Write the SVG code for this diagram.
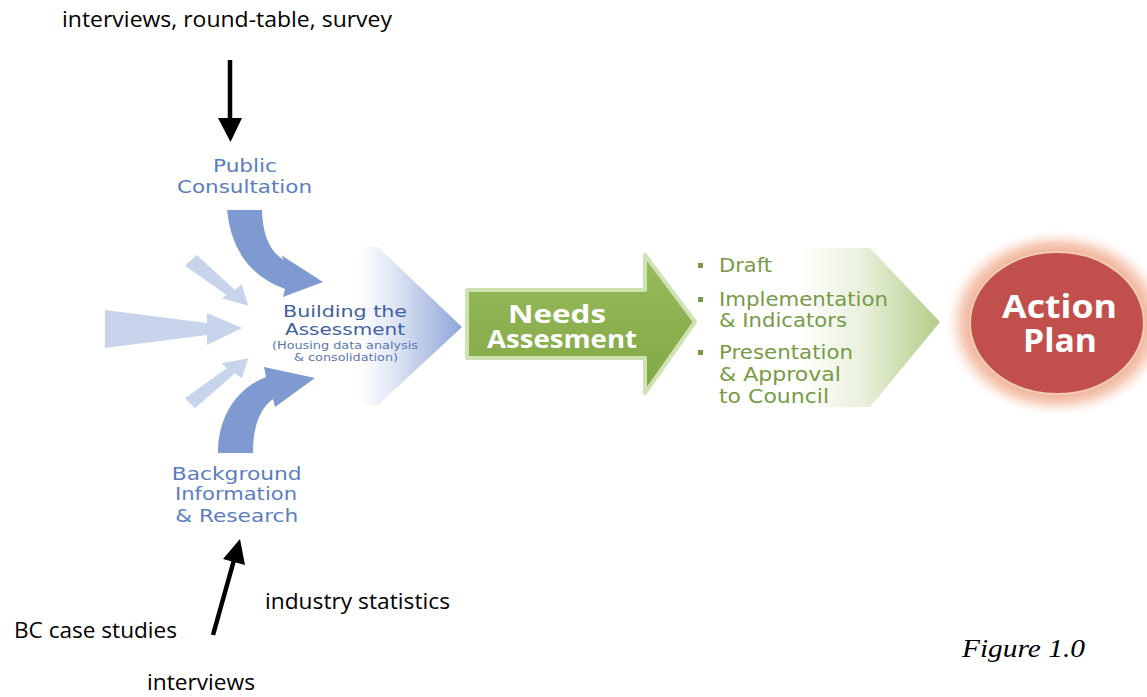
<svg xmlns="http://www.w3.org/2000/svg" width="1147" height="697" viewBox="0 0 1147 697">
<defs>
<style>
.blk{font-family:"Open Sans","Liberation Sans",sans-serif;font-size:22px;fill:#000}
.cg{font-family:"DejaVu Sans","Liberation Sans",sans-serif;text-anchor:middle}
.blue{fill:#5b7dc0;font-size:18px}
.bld{fill:#3f5f9f;font-size:16px}
.sub{fill:#5a76b2;font-size:11px}
.grn{font-family:"DejaVu Sans","Liberation Sans",sans-serif;fill:#779a48;font-size:20px}
.wb{font-family:"Open Sans","Liberation Sans",sans-serif;font-weight:bold;fill:#fff;text-anchor:middle}
.light{fill:#c8d4eb}
.dark{fill:#7f9ad1}
</style>
<linearGradient id="gBlue" gradientUnits="userSpaceOnUse" x1="360" y1="0" x2="462" y2="0">
<stop offset="0" stop-color="#8ea5d8" stop-opacity="0"/>
<stop offset="0.3" stop-color="#8ea5d8" stop-opacity="0.25"/>
<stop offset="1" stop-color="#8ea5d8" stop-opacity="1"/>
</linearGradient>
<linearGradient id="gGreenFade" gradientUnits="userSpaceOnUse" x1="800" y1="0" x2="942" y2="0">
<stop offset="0" stop-color="#b2cb85" stop-opacity="0"/>
<stop offset="0.45" stop-color="#b2cb85" stop-opacity="0.3"/>
<stop offset="1" stop-color="#b2cb85" stop-opacity="1"/>
</linearGradient>
<linearGradient id="gGreen" x1="0" y1="0" x2="0" y2="1">
<stop offset="0" stop-color="#97bb5c"/>
<stop offset="1" stop-color="#82a746"/>
</linearGradient>
<radialGradient id="gGlow" cx="0.5" cy="0.5" r="0.5">
<stop offset="0.74" stop-color="#eeaa90"/>
<stop offset="0.86" stop-color="#f7cfbc"/>
<stop offset="1" stop-color="#fdf0ea" stop-opacity="0"/>
</radialGradient>
</defs>
<rect width="1147" height="697" fill="#fff"/>

<g id="connectors">
<line x1="230" y1="60" x2="230" y2="122" stroke="#000" stroke-width="4.5"/>
<polygon points="218,118 242,118 230.5,142" fill="#000"/>
<line x1="213" y1="635" x2="234" y2="560" stroke="#000" stroke-width="4.5"/>
<polygon points="223,559 245,565 240,539" fill="#000"/>
<polygon class="light" points="196.7,255 235,290 241.7,284.3 248.3,305.7 221.7,298.3 226.7,295 185,265.7"/>
<polygon class="light" points="105,310 207,323 207,313 242,328 207,345 207,335 105,348"/>
<polygon class="light" points="185,398.3 226.7,368.3 221.7,363.3 248.3,358.3 241.7,378.3 235,373.3 195,408.3"/>
<path class="dark" d="M227 210 L262 210 Q263 248 284 260 L281 255 L323 282 L283 297 L285 289 Q233 270 227 210 Z"/>
<path class="dark" d="M218 453 C218 415 238 388 266 377 L264 367 L315 378 L275 407 L273 399 C258 410 253 430 253 453 Z"/>
</g>

<g id="input-text">
<text class="blk" x="62" y="27" textLength="330" lengthAdjust="spacingAndGlyphs">interviews, round-table, survey</text>
<text class="blk" x="265" y="609" textLength="185" lengthAdjust="spacingAndGlyphs">industry statistics</text>
<text class="blk" x="14" y="638" textLength="163" lengthAdjust="spacingAndGlyphs">BC case studies</text>
<text class="blk" x="147" y="690" textLength="108" lengthAdjust="spacingAndGlyphs">interviews</text>
</g>

<g id="public-consultation">
<text class="cg blue" x="245" y="172" textLength="64" lengthAdjust="spacingAndGlyphs">Public</text>
<text class="cg blue" x="244.5" y="193" textLength="135" lengthAdjust="spacingAndGlyphs">Consultation</text>
</g>

<g id="background-information">
<text class="cg blue" x="236.7" y="480" textLength="130" lengthAdjust="spacingAndGlyphs">Background</text>
<text class="cg blue" x="236" y="500" textLength="122" lengthAdjust="spacingAndGlyphs">Information</text>
<text class="cg blue" x="236.7" y="521.5" textLength="123" lengthAdjust="spacingAndGlyphs">&amp; Research</text>
</g>

<g id="building-assessment">
<polygon points="300,247 378,247 462,327 378,405 300,405" fill="url(#gBlue)"/>
<text class="cg bld" x="345" y="317" textLength="124" lengthAdjust="spacingAndGlyphs">Building the</text>
<text class="cg bld" x="345" y="335" textLength="120" lengthAdjust="spacingAndGlyphs">Assessment</text>
<text class="cg sub" x="345" y="349" textLength="146" lengthAdjust="spacingAndGlyphs">(Housing data analysis</text>
<text class="cg sub" x="346" y="361" textLength="104" lengthAdjust="spacingAndGlyphs">&amp; consolidation)</text>
</g>

<g id="needs-assessment">
<polygon points="467,290 645,290 645,255 695,322 645,393 645,358 467,358" fill="url(#gGreen)" stroke="#cfe2b2" stroke-width="4" stroke-linejoin="round"/>
<text class="wb" x="557" y="323" font-size="25" textLength="98" lengthAdjust="spacingAndGlyphs">Needs</text>
<text class="wb" x="562" y="348" font-size="25" textLength="150" lengthAdjust="spacingAndGlyphs">Assesment</text>
</g>

<g id="steps">
<polygon points="700,248 870,248 940,322 870,407 700,407" fill="url(#gGreenFade)"/>
<rect x="698" y="263" width="5" height="5" fill="#779a48"/>
<text class="grn" x="719" y="272" textLength="53" lengthAdjust="spacingAndGlyphs">Draft</text>
<rect x="698" y="297" width="5" height="5" fill="#779a48"/>
<text class="grn" x="719" y="306" textLength="169" lengthAdjust="spacingAndGlyphs">Implementation</text>
<text class="grn" x="719" y="327" textLength="128" lengthAdjust="spacingAndGlyphs">&amp; Indicators</text>
<rect x="698" y="350" width="5" height="5" fill="#779a48"/>
<text class="grn" x="719" y="359" textLength="134" lengthAdjust="spacingAndGlyphs">Presentation</text>
<text class="grn" x="719" y="381" textLength="122" lengthAdjust="spacingAndGlyphs">&amp; Approval</text>
<text class="grn" x="719" y="403" textLength="110" lengthAdjust="spacingAndGlyphs">to Council</text>
</g>

<g id="action-plan">
<ellipse cx="1057" cy="323" rx="112" ry="93" fill="url(#gGlow)"/>
<ellipse cx="1057" cy="323" rx="87" ry="71" fill="#c1504d" stroke="#f3cbb7" stroke-width="2"/>
<text class="wb" x="1059.5" y="318" font-size="33" textLength="115" lengthAdjust="spacingAndGlyphs">Action</text>
<text class="wb" x="1060" y="352" font-size="33" textLength="74" lengthAdjust="spacingAndGlyphs">Plan</text>
</g>

<g id="caption">
<text x="962" y="657" font-family="'Liberation Serif','Times New Roman',serif" font-style="italic" font-size="26" textLength="123" lengthAdjust="spacingAndGlyphs">Figure 1.0</text>
</g>
</svg>
